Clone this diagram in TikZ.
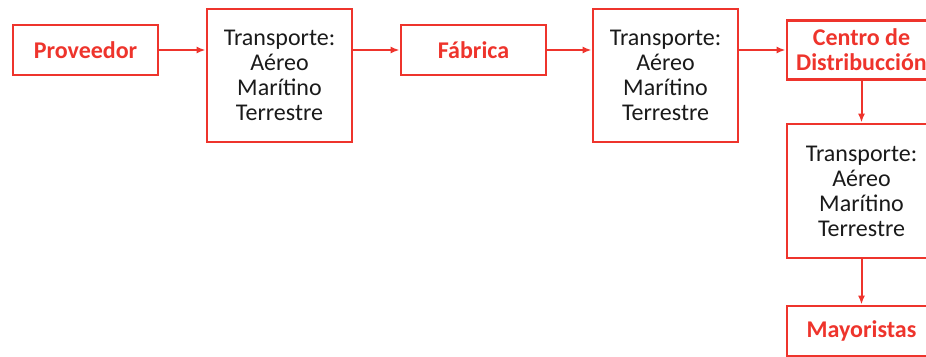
\documentclass[tikz,border=0pt]{standalone}
\usepackage{fontspec}
\setmainfont{Carlito}
\usetikzlibrary{arrows.meta}
\definecolor{myred}{RGB}{238,52,44}
\definecolor{mytext}{RGB}{26,26,26}
\tikzset{
  box/.style={draw=myred, line width=2.8pt, rectangle, inner sep=0pt, align=center},
  lbl/.style={box, text=myred, font=\fontsize{24}{25}\selectfont\bfseries},
  trans/.style={box, text=mytext, font=\fontsize{24}{25}\selectfont},
  conn/.style={draw=myred, line width=2pt, -{Latex[length=9pt,width=7pt]}}
}
\begin{document}
\begin{tikzpicture}[x=1pt,y=-1pt]
\useasboundingbox (0,0) rectangle (926,356);
\clip (0,0) rectangle (926,356);
\node[lbl, minimum width=145pt, minimum height=50pt] (prov) at (85.5,50) {Proveedor};
\node[trans, minimum width=145pt, minimum height=133pt] (t1) at (279.5,75.5) {Transporte:\\Aéreo\\Marítino\\Terrestre};
\node[lbl, minimum width=145pt, minimum height=50pt] (fab) at (473.5,50) {Fábrica};
\node[trans, minimum width=145pt, minimum height=133pt] (t2) at (665.5,75.5) {Transporte:\\Aéreo\\Marítino\\Terrestre};
\node[lbl, minimum width=149pt, minimum height=59pt] (cd) at (861.5,50) {Centro de\\Distribucción};
\node[trans, minimum width=149pt, minimum height=134pt] (t3) at (861.5,191) {Transporte:\\Aéreo\\Marítino\\Terrestre};
\node[lbl, minimum width=149pt, minimum height=50pt] (may) at (861.5,331) {Mayoristas};
\draw[conn] (prov.east) -- (prov.east -| t1.west);
\draw[conn] (t1.east |- fab.west) -- (fab.west);
\draw[conn] (fab.east) -- (fab.east -| t2.west);
\draw[conn] (t2.east |- cd.west) -- (cd.west);
\draw[conn] (cd.south) -- (t3.north);
\draw[conn] (t3.south) -- (may.north);
\end{tikzpicture}
\end{document}
